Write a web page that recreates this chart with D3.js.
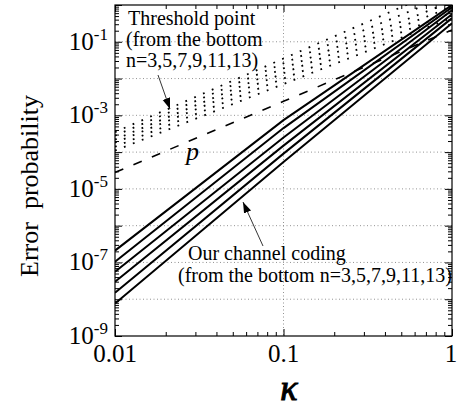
<!DOCTYPE html>
<html>
<head>
<meta charset="utf-8">
<script src="https://cdn.jsdelivr.net/npm/d3@7"></script>
<style>
  body { margin: 0; background: #fff; }
  svg { display: block; }
  text { font-family: "Liberation Serif", "Times New Roman", serif; fill: #000; }
</style>
</head>
<body>
<svg id="chart" width="458" height="409"></svg>
<script>
// ========= Data
const kappa = [0.01, 0.1, 1];
const nValues = [3, 5, 7, 9, 11, 13];

// "Our channel coding": error probability at kappa = 0.01, 0.1, 1
const coding3 = [7.6e-9, 5.4e-5, 0.32];
const coding5 = [1.5e-8, 9.1e-5, 0.44];
const coding7 = [3.0e-8, 1.5e-4, 0.56];
const coding9 = [5.6e-8, 2.5e-4, 0.72];
const coding11 = [1.05e-7, 4.5e-4, 0.87];
const coding13 = [2.1e-7, 7.4e-4, 1.0];

// "Threshold point": error probability at kappa = 0.01, 0.1, 1
const thresh3 = [1.1e-4, 7.1e-3, 0.45];
const thresh5 = [1.4e-4, 1.0e-2, 0.63];
const thresh7 = [1.8e-4, 1.4e-2, 0.9];
const thresh9 = [2.2e-4, 1.9e-2, 1.25];
const thresh11 = [2.8e-4, 2.6e-2, 2.0];
const thresh13 = [3.5e-4, 3.5e-2, 3.5];

// p (dashed)
const pValues = [2.8e-5, 2.4e-3, 0.21];

const xTickValues = [0.01, 0.1, 1];
const xTickLabels = ["0.01", "0.1", "1"];
const yTickValues = [1e-1, 1e-3, 1e-5, 1e-7, 1e-9];
const yTickExp = ["-1", "-3", "-5", "-7", "-9"];

const codingSeries = [coding3, coding5, coding7, coding9, coding11, coding13];
const threshSeries = [thresh3, thresh5, thresh7, thresh9, thresh11, thresh13];

// ========= Layout
const svg = d3.select("#chart");
const m = { l: 115, r: 452, t: 5, b: 336 };

const x = d3.scaleLog().domain([0.01, 1]).range([m.l, m.r]);
const y = d3.scaleLog().domain([1e-9, 1]).range([m.b, m.t]);

const toPts = vals => vals.map((v, i) => [kappa[i], v]);
const line = d3.line().x(d => x(d[0])).y(d => y(d[1]));

const defs = svg.append("defs");
defs.append("clipPath").attr("id", "plotClip")
  .append("rect").attr("x", m.l).attr("y", m.t)
  .attr("width", m.r - m.l).attr("height", m.b - m.t);

defs.append("marker")
  .attr("id", "arrow").attr("viewBox", "0 0 10 10")
  .attr("refX", 10).attr("refY", 5)
  .attr("markerWidth", 11).attr("markerHeight", 11)
  .attr("markerUnits", "userSpaceOnUse")
  .attr("orient", "auto")
  .append("path").attr("d", "M0,1.5 L10,5 L0,8.5 Z").attr("fill", "#000");

// ========= Grid
const grid = svg.append("g").attr("stroke", "#777").attr("stroke-width", 0.8)
  .attr("stroke-dasharray", "1,2.5");
[1e-8, 1e-7, 1e-6, 1e-5, 1e-4, 1e-3, 1e-2, 1e-1].forEach(v => {
  grid.append("line").attr("x1", m.l).attr("x2", m.r).attr("y1", y(v)).attr("y2", y(v));
});
grid.append("line").attr("x1", x(0.1)).attr("x2", x(0.1)).attr("y1", m.t).attr("y2", m.b);

// ========= Curves
const plot = svg.append("g").attr("clip-path", "url(#plotClip)");

plot.selectAll("path.thresh")
  .data(threshSeries)
  .enter().append("path")
  .attr("class", "thresh")
  .attr("fill", "none")
  .attr("stroke", "#000")
  .attr("stroke-width", 1.8)
  .attr("stroke-dasharray", "1.8,7.8")
  .attr("d", d => line(toPts(d)));

plot.append("path")
  .attr("fill", "none")
  .attr("stroke", "#000")
  .attr("stroke-width", 1.6)
  .attr("stroke-dasharray", "9,11")
  .attr("d", line(toPts(pValues)));

plot.selectAll("path.coding")
  .data(codingSeries)
  .enter().append("path")
  .attr("class", "coding")
  .attr("fill", "none")
  .attr("stroke", "#000")
  .attr("stroke-width", 2)
  .attr("d", d => line(toPts(d)));

// ========= Axes (ticks pointing inward)
const isDecade = v => Math.abs(Math.log10(v) - Math.round(Math.log10(v))) < 1e-6;
const yMinor = y.ticks(30).filter(v => !isDecade(v));
const yMajor = y.ticks(30).filter(isDecade);
const xMinor = x.ticks(30).filter(v => !isDecade(v));
const xMajor = x.ticks(30).filter(isDecade);

function addAxis(gen, tx, ty, vals, size) {
  const g = svg.append("g").attr("transform", `translate(${tx},${ty})`)
    .call(gen.tickValues(vals).tickSize(size).tickSizeOuter(0).tickFormat(""));
  g.select(".domain").remove();
  g.selectAll("line").attr("stroke", "#000").attr("stroke-width", 1);
}
addAxis(d3.axisLeft(y), m.l, 0, yMinor, -4);
addAxis(d3.axisLeft(y), m.l, 0, yMajor, -7);
addAxis(d3.axisRight(y), m.r, 0, yMinor, -4);
addAxis(d3.axisRight(y), m.r, 0, yMajor, -7);
addAxis(d3.axisBottom(x), 0, m.b, xMinor, -4);
addAxis(d3.axisBottom(x), 0, m.b, xMajor, -7);
addAxis(d3.axisTop(x), 0, m.t, xMinor, -4);
addAxis(d3.axisTop(x), 0, m.t, xMajor, -7);

svg.append("rect")
  .attr("x", m.l).attr("y", m.t)
  .attr("width", m.r - m.l).attr("height", m.b - m.t)
  .attr("fill", "none").attr("stroke", "#000").attr("stroke-width", 1.2);

// ========= Tick labels
const yLab = svg.append("g");
yTickValues.forEach((v, i) => {
  const t = yLab.append("text")
    .attr("x", 108).attr("y", y(v) + 8)
    .attr("text-anchor", "end")
    .attr("font-size", 25);
  t.append("tspan").text("10");
  t.append("tspan").attr("font-size", 17).attr("dy", -10).text(yTickExp[i]);
});

svg.append("g").selectAll("text")
  .data(xTickValues)
  .enter().append("text")
  .attr("x", (d, i) => i === 2 ? x(d) - 1 : x(d))
  .attr("y", 362)
  .attr("text-anchor", "middle")
  .attr("font-size", 25)
  .text((d, i) => xTickLabels[i]);

// ========= Axis titles
svg.append("text")
  .attr("transform", "translate(38,186) rotate(-90)")
  .attr("text-anchor", "middle")
  .attr("font-size", 26)
  .attr("xml:space", "preserve")
  .text("Error  probability");

svg.append("text")
  .attr("x", 289).attr("y", 400)
  .attr("text-anchor", "middle")
  .attr("font-size", 36)
  .attr("font-style", "italic")
  .attr("stroke", "#000")
  .attr("stroke-width", 1.1)
  .text("κ");

// ========= Annotations
const ann = svg.append("g").attr("font-size", 20);
ann.append("text").attr("x", 128).attr("y", 25).text("Threshold point");
ann.append("text").attr("x", 126).attr("y", 46).text("(from the bottom");
ann.append("text").attr("x", 126).attr("y", 67).text("n=3,5,7,9,11,13)");

svg.append("line")
  .attr("x1", 158).attr("y1", 75).attr("x2", 170).attr("y2", 109)
  .attr("stroke", "#000").attr("stroke-width", 0.8)
  .attr("marker-end", "url(#arrow)");

svg.append("text")
  .attr("x", 186).attr("y", 160)
  .attr("font-size", 26).attr("font-style", "italic")
  .text("p");

ann.append("text").attr("x", 188).attr("y", 260).text("Our channel coding");
ann.append("text").attr("x", 178).attr("y", 282).text("(from the bottom n=3,5,7,9,11,13)");

svg.append("line")
  .attr("x1", 263).attr("y1", 246).attr("x2", 243).attr("y2", 202)
  .attr("stroke", "#000").attr("stroke-width", 0.8)
  .attr("marker-end", "url(#arrow)");
</script>
</body>
</html>
